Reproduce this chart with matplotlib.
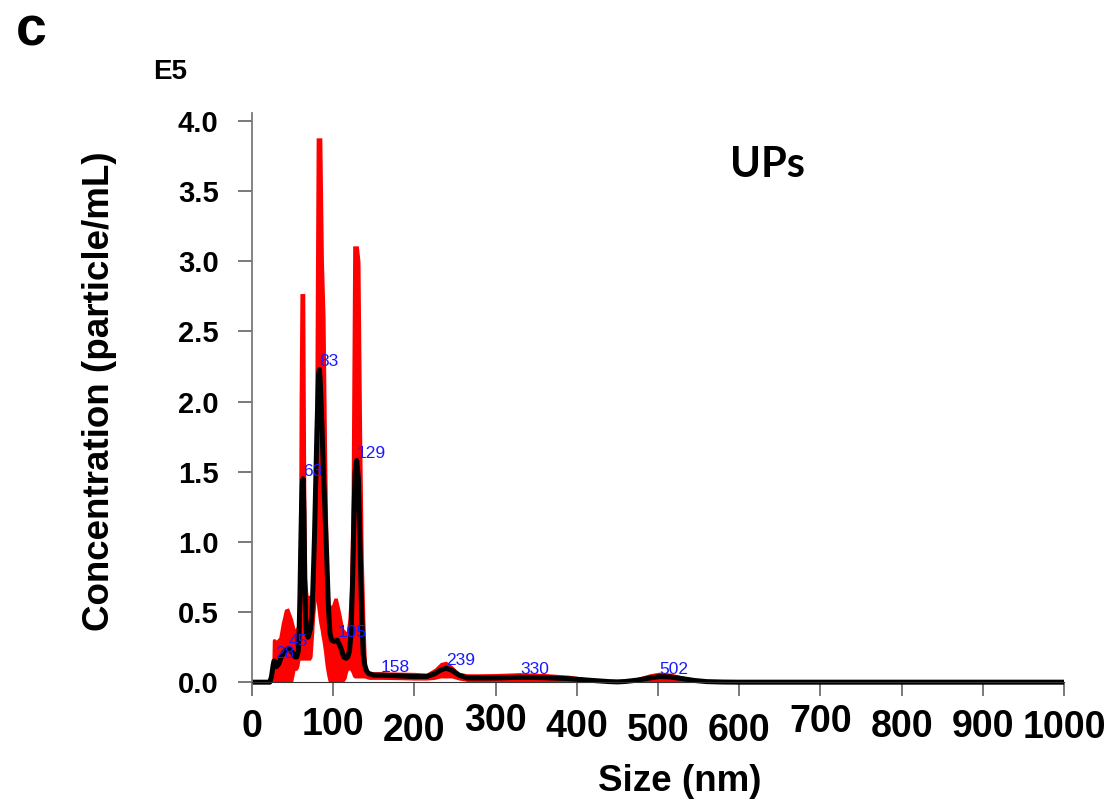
import matplotlib
matplotlib.use("Agg")
import matplotlib.pyplot as plt
from matplotlib.transforms import ScaledTranslation

# particle size (nm) with mean concentration (E5 particle/mL) and the red +/- band
size = [0, 20, 22, 24, 25, 26, 27, 28, 30, 33,
        36, 40, 45, 50, 53, 55, 57, 58, 59, 60,
        61, 62, 63, 64, 65, 66, 67, 69, 72, 74,
        76, 77, 78, 79, 80, 82, 83, 84, 85, 86,
        88, 90, 92, 94, 96, 98, 101, 105, 109, 113,
        116, 118, 120, 122, 124, 126, 127, 129, 131, 133,
        135, 137, 139, 141, 144, 150, 158, 180, 200, 215,
        225, 232, 239, 246, 255, 265, 280, 300, 330, 360,
        390, 420, 440, 450, 460, 475, 490, 502, 515, 530,
        545, 560, 580, 600, 700, 800, 900, 1000]
mean = [0, 0, 0, 0.04, 0.08, 0.12, 0.15, 0.15, 0.11, 0.13,
        0.18, 0.22, 0.24, 0.21, 0.18, 0.18, 0.22, 0.35, 0.6, 0.95,
        1.25, 1.42, 1.45, 1.2, 0.75, 0.45, 0.35, 0.32, 0.38, 0.5,
        0.85, 1.05, 1.3, 1.55, 1.8, 2.2, 2.23, 2.15, 2.0, 1.85,
        1.5, 1.2, 0.9, 0.55, 0.35, 0.3, 0.29, 0.3, 0.25, 0.18,
        0.17, 0.18, 0.22, 0.35, 0.75, 1.3, 1.5, 1.58, 1.45, 1.0,
        0.5, 0.2, 0.12, 0.08, 0.06, 0.05, 0.05, 0.045, 0.04, 0.04,
        0.06, 0.085, 0.1, 0.085, 0.05, 0.03, 0.03, 0.03, 0.035, 0.032,
        0.025, 0.012, 0.004, 0.002, 0.005, 0.015, 0.03, 0.04, 0.037, 0.025,
        0.012, 0.004, 0.001, 0, 0, 0, 0, 0]
upper = [0, 0, 0, 0.02, 0.3, 0.31, 0.31, 0.31, 0.3, 0.32,
         0.42, 0.52, 0.53, 0.45, 0.38, 0.4, 0.55, 2.0, 2.77, 2.77,
         2.77, 2.77, 2.77, 2.77, 2.77, 1.6, 0.75, 0.62, 0.62, 0.66,
         1.0, 1.6, 2.8, 3.88, 3.88, 3.88, 3.88, 3.88, 3.88, 3.88,
         3.0, 2.6, 1.6, 0.8, 0.55, 0.55, 0.6, 0.6, 0.5, 0.38,
         0.36, 0.45, 0.65, 1.3, 3.11, 3.11, 3.11, 3.11, 3.11, 3.0,
         1.8, 0.9, 0.45, 0.12, 0.08, 0.075, 0.075, 0.072, 0.07, 0.065,
         0.1, 0.14, 0.15, 0.12, 0.07, 0.06, 0.06, 0.062, 0.068, 0.062,
         0.05, 0.025, 0.01, 0.005, 0.012, 0.035, 0.06, 0.072, 0.065, 0.045,
         0.025, 0.01, 0.003, 0, 0, 0, 0, 0]
lower = [0, 0, 0, 0, 0, 0, 0, 0, 0, 0,
         0, 0, 0, 0, 0.085, 0.085, 0.1, 0.12, 0.157, 0.157,
         0.157, 0.157, 0.157, 0.157, 0.157, 0.157, 0.157, 0.157, 0.157, 0.18,
         0.35, 0.45, 0.52, 0.58, 0.52, 0.43, 0.4, 0.37, 0.33, 0.3,
         0.22, 0.12, 0.05, 0, 0, 0, 0, 0, 0, 0,
         0.03, 0.08, 0.09, 0.07, 0.04, 0.03, 0.03, 0.03, 0.03, 0.03,
         0.03, 0.03, 0.03, 0.025, 0.02, 0.02, 0.02, 0.018, 0.015, 0.015,
         0.02, 0.03, 0.03, 0.03, 0.015, 0.005, 0.005, 0.005, 0.005, 0.005,
         0.003, 0, 0, 0, 0, 0, 0, 0.005, 0.005, 0,
         0, 0, 0, 0, 0, 0, 0, 0]

peak_sizes = [28, 45, 63, 83, 105, 129, 158, 239, 330, 502]

xticks = [0, 100, 200, 300, 400, 500, 600, 700, 800, 900, 1000]
yticks = [0.0, 0.5, 1.0, 1.5, 2.0, 2.5, 3.0, 3.5, 4.0]

bold = ["Liberation Sans", "DejaVu Sans"]

fig = plt.figure(figsize=(11.14, 8.07), dpi=100)
ax = fig.add_axes([252 / 1114, 1 - 692 / 807, 812 / 1114, 579 / 807])

ax.fill_between(size, lower, upper, color="#ff0000", lw=0)
ax.plot(size, mean, color="black", lw=3.6, solid_joinstyle="round")

for p in peak_sizes:
    v = mean[size.index(p)]
    ax.text(p, v, str(p), color="#1a1aff", fontsize=12.5, family=bold,
            ha="left", va="bottom")

ax.set_xlim(0, 1000)
ax.set_ylim(-0.07, 4.057)
ax.spines["top"].set_visible(False)
ax.spines["right"].set_visible(False)
ax.spines["bottom"].set_position(("data", 0))
ax.spines["left"].set_color("#7a7a7a")
ax.spines["left"].set_linewidth(1.3)
ax.spines["bottom"].set_color("#333333")

ax.set_xticks(xticks)
ax.set_xticklabels([str(t) for t in xticks])
ax.set_yticks(yticks)
ax.set_yticklabels(["%.1f" % t for t in yticks])
ax.tick_params(axis="y", length=10, width=1.1, color="#555555", pad=14,
               labelsize=21)
ax.tick_params(axis="x", length=10, width=1.1, color="#555555", pad=9,
               labelsize=27)
for lab in ax.get_yticklabels():
    lab.set_fontweight("bold")
    lab.set_family(bold)
# x tick labels sit at slightly uneven heights in the original
shifts = [0, 2, -4, 6, 0, -4, -4, 5, 0, 0, -1]
for lab, s in zip(ax.get_xticklabels(), shifts):
    lab.set_fontweight("bold")
    lab.set_family(bold)
    lab.set_transform(lab.get_transform() + ScaledTranslation(0, s / 100, fig.dpi_scale_trans))

ax.set_ylabel("Concentration (particle/mL)", fontsize=26.5, fontweight="bold",
              family=bold, va="center")
ax.yaxis.set_label_coords(-0.188, 0.52)
ax.set_xlabel("Size (nm)", fontsize=26.5, fontweight="bold", family=bold,
              va="center")
ax.xaxis.set_label_coords(0.527, -0.155)

ax.text(589, 3.6, "UPs", fontsize=30, fontweight="bold",
        family=["Lato", "DejaVu Sans"], ha="left", va="baseline")

fig.text(170 / 1114, 1 - 72 / 807, "E5", fontsize=20, fontweight="bold",
         family=bold, ha="center", va="center")
fig.text(31 / 1114, 1 - 31 / 807, "c", fontsize=40, fontweight="bold",
         family=bold, ha="center", va="center")

fig.savefig("out.png", dpi=100)
